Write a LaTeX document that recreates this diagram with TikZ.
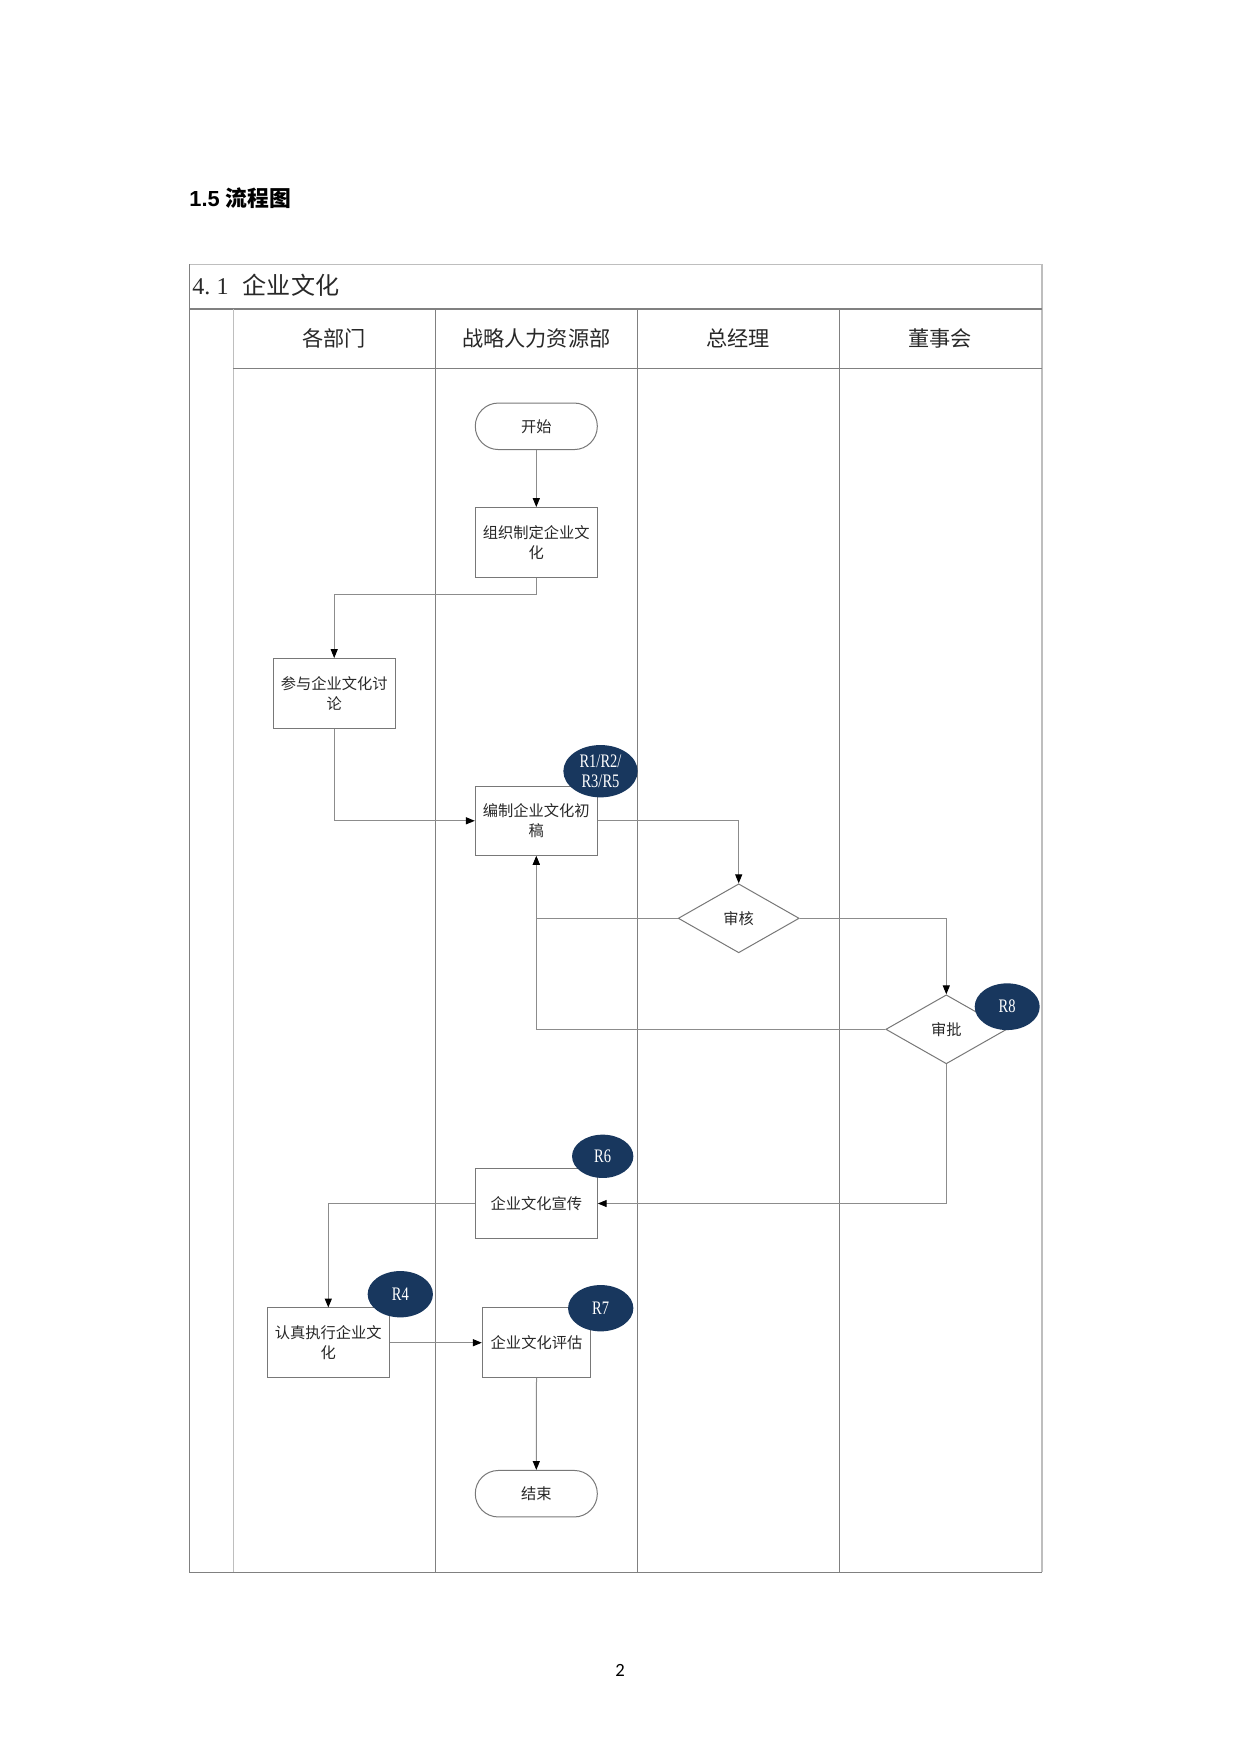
\documentclass[tikz,border=0pt]{standalone}
\usepackage{fontspec}
\setmainfont{Liberation Serif}
\newfontfamily\cjk{Noto Sans CJK SC}
\newfontfamily\rfont[FakeStretch=0.76]{Liberation Serif}
\newfontfamily\pgfont{Carlito}
\newfontfamily\hfont{Liberation Sans}
\usetikzlibrary{shapes.geometric,arrows.meta}
\definecolor{navy}{RGB}{24,55,94}
\definecolor{lanegray}{RGB}{128,128,128}
\definecolor{lightgray}{RGB}{190,190,190}
\definecolor{boxgray}{RGB}{120,120,120}
\definecolor{linegray}{RGB}{140,140,140}
\definecolor{txt}{RGB}{40,40,40}
\def\pxu{0.4818pt}
\tikzset{
  laneline/.style={draw=lanegray, line width=1.1*\pxu},
  lightline/.style={draw=lightgray, line width=1.1*\pxu},
  procbox/.style={draw=boxgray, line width=1*\pxu, fill=white, minimum width=122*\pxu, minimum height=69.5*\pxu, inner sep=0pt, align=center, text=txt, font=\cjk\fontsize{7.35pt}{9.6pt}\selectfont},
  termnode/.style={procbox, rounded corners=11.1pt, minimum height=46.5*\pxu},
  decnode/.style={diamond, draw=boxgray, line width=1*\pxu, fill=white, minimum width=121*\pxu, minimum height=69*\pxu, inner sep=0pt, text=txt, font=\cjk\fontsize{7.35pt}{9.6pt}\selectfont},
  rtag/.style={ellipse, fill=navy, text=white, inner sep=0pt, align=center, font=\rfont\fontsize{9.2pt}{9.5pt}\selectfont},
  flowline/.style={draw=linegray, line width=1*\pxu, -{Triangle[length=4.3pt,width=3.4pt,color=black]}},
  headtxt/.style={font=\cjk\fontsize{10.2pt}{12pt}\selectfont, text=txt, inner sep=0pt}
}
\begin{document}
\begin{tikzpicture}[x=0.4818pt,y=-0.4818pt]
\useasboundingbox (0,0) rectangle (1241,1754);
\fill[white] (0,0) rectangle (1241,1754);

% page heading
\node[anchor=west, inner sep=0pt, text=black] (heading) at (189,198)
  {\hfont\bfseries\fontsize{10.5pt}{12pt}\selectfont 1.5 \cjk\bfseries 流程图};

% table frame
\draw[lightline] (189.3,264.3) -- (1042,264.3);
\draw[laneline] (189.3,264.3) -- (189.3,1572.3);
\draw[lightline] (1042,264.3) -- (1042,1572.3);
\draw[draw=lanegray, line width=2*\pxu] (189.3,309.5) -- (1042,309.5);
\draw[lightline] (233.3,309.5) -- (233.3,1572.3);
\draw[laneline] (435.3,309.5) -- (435.3,1572.3);
\draw[laneline] (637.3,309.5) -- (637.3,1572.3);
\draw[laneline] (839.3,309.5) -- (839.3,1572.3);
\draw[laneline] (233.3,368.3) -- (1042,368.3);
\draw[laneline] (189.3,1572.3) -- (1042,1572.3);

% table title
\node[anchor=west, inner sep=0pt, text=txt] (ttl) at (192,285.5)
  {\fontsize{11.6pt}{13pt}\selectfont\makebox[24.3pt][l]{4.\hspace{3pt}1}\cjk 企业文化};

% lane headers
\node[headtxt] (h1) at (334.3,338.3) {各部门};
\node[headtxt] (h2) at (536.3,338.3) {战略人力资源部};
\node[headtxt] (h3) at (738.3,338.3) {总经理};
\node[headtxt] (h4) at (940.3,338.3) {董事会};

% flow nodes
\node[termnode] (start) at (536.3,426.3) {开始};
\node[procbox] (b1) at (536.3,542.3) {组织制定企业文\\化};
\node[procbox] (b2) at (334.2,693.3) {参与企业文化讨\\论};
\node[procbox] (b3) at (536.3,820.8) {编制企业文化初\\稿};
\node[decnode] (d1) at (738.7,918.3) {审核};
\node[decnode] (d2) at (946.3,1029.3) {审批};
\node[procbox] (b4) at (536.3,1203.5) {企业文化宣传};
\node[procbox] (b5) at (328.3,1342.7) {认真执行企业文\\化};
\node[procbox, minimum width=108.4*\pxu] (b6) at (536.5,1342.7) {企业文化评估};
\node[termnode] (stop) at (536.3,1493.7) {结束};

% connectors
\draw[flowline] (start.south) -- (b1.north);
\coordinate (k1) at (536.3,594.3);
\draw[flowline] (b1.south) -- (k1) -| (b2.north);
\draw[flowline] (b2.south) |- (b3.west);
\draw[flowline] (b3.east) -| (d1.north);
\draw[flowline] (d1.east) -| (d2.north);
\draw[flowline] (d1.west) -| (b3.south);
\draw[flowline] (d2.west) -| (b3.south);
\draw[flowline] (d2.south) |- (b4.east);
\draw[flowline] (b4.west) -| (b5.north);
\draw[flowline] (b5.east) -- (b6.west);
\draw[flowline] (b6.south) -- (stop.north);

% risk tags
\node[rtag, minimum width=74.3*\pxu, minimum height=52.3*\pxu] (r1) at (600.5,771.2) {R1/R2/\\R3/R5};
\node[rtag, minimum width=65*\pxu, minimum height=46.7*\pxu] (r8) at (1007.2,1006.7) {R8};
\node[rtag, minimum width=61.3*\pxu, minimum height=43.3*\pxu] (r6) at (602.7,1156.3) {R6};
\node[rtag, minimum width=65.3*\pxu, minimum height=46.3*\pxu] (r4) at (400.3,1294.2) {R4};
\node[rtag, minimum width=65.3*\pxu, minimum height=46.3*\pxu] (r7) at (600.7,1308.2) {R7};

% page number
\node[inner sep=0pt, text=black] (pg) at (620,1670) {\pgfont\fontsize{9pt}{11pt}\selectfont 2};
\end{tikzpicture}
\end{document}
